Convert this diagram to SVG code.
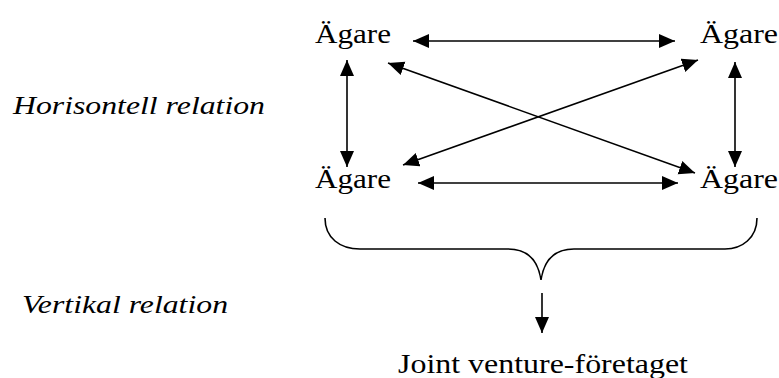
<svg xmlns="http://www.w3.org/2000/svg" width="779" height="378" viewBox="0 0 779 378">
<style>
.node{font-family:'Liberation Serif','DejaVu Serif',serif;font-size:27px;fill:#000}
.lab{font-family:'Liberation Serif','DejaVu Serif',serif;font-style:italic;font-size:26px;fill:#000}
.c{stroke:#000;stroke-width:1.6;fill:none}
</style>
<defs>
<marker id="ah" markerUnits="userSpaceOnUse" markerWidth="17" markerHeight="15" refX="16" refY="7" orient="auto-start-reverse">
<path d="M0,0 L16,7 L0,14 z" fill="#000"/>
</marker>
</defs>
<rect width="779" height="378" fill="#fff"/>
<g id="label-h"><text class="lab" x="13" y="114" textLength="252" lengthAdjust="spacingAndGlyphs">Horisontell relation</text></g>
<g id="label-v"><text class="lab" x="22" y="313" textLength="206" lengthAdjust="spacingAndGlyphs">Vertikal relation</text></g>
<g id="n-tl"><text class="node" x="315" y="43" textLength="76" lengthAdjust="spacingAndGlyphs">Ägare</text></g>
<g id="n-tr"><text class="node" x="700" y="43" textLength="78" lengthAdjust="spacingAndGlyphs">Ägare</text></g>
<g id="n-bl"><text class="node" x="315" y="188" textLength="76" lengthAdjust="spacingAndGlyphs">Ägare</text></g>
<g id="n-br"><text class="node" x="700" y="188" textLength="78" lengthAdjust="spacingAndGlyphs">Ägare</text></g>
<g id="n-jv"><text class="node" x="398" y="373" textLength="290" lengthAdjust="spacingAndGlyphs">Joint venture-företaget</text></g>
<g id="connectors">
<line class="c" x1="413" y1="41" x2="675" y2="41" marker-start="url(#ah)" marker-end="url(#ah)"/>
<line class="c" x1="418" y1="183" x2="678" y2="183" marker-start="url(#ah)" marker-end="url(#ah)"/>
<line class="c" x1="347" y1="60" x2="347" y2="167" marker-start="url(#ah)" marker-end="url(#ah)"/>
<line class="c" x1="735" y1="62" x2="735" y2="167" marker-start="url(#ah)" marker-end="url(#ah)"/>
<line class="c" x1="388" y1="63" x2="695" y2="173" marker-start="url(#ah)" marker-end="url(#ah)"/>
<line class="c" x1="698" y1="60" x2="403" y2="165" marker-start="url(#ah)" marker-end="url(#ah)"/>
<path class="c" d="M325,218 C325,238 340,249 360,249 L508,249 C528,249 538,260 541,280 C544,260 554,249 574,249 L725,249 C742,249 757,238 757,218"/>
<line class="c" x1="542" y1="293" x2="542" y2="333" marker-end="url(#ah)"/>
</g>
</svg>
